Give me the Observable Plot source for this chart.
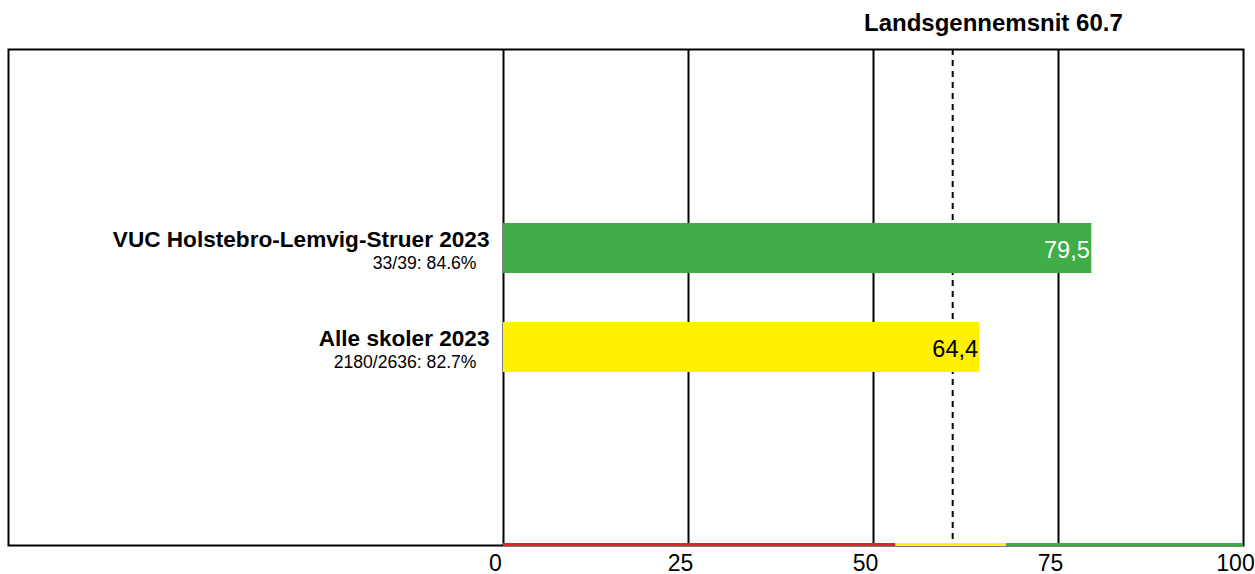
<!DOCTYPE html>
<html>
<head>
<meta charset="utf-8">
<script src="https://cdn.jsdelivr.net/npm/d3@7"></script>
<script src="https://cdn.jsdelivr.net/npm/@observablehq/plot@0.6"></script>
<style>
  html, body { margin: 0; padding: 0; background: #fff; }
  #wrap { position: relative; width: 1255px; height: 574px; font-family: "Liberation Sans", Arial, sans-serif; }
  #title { position: absolute; left: 864px; top: 11px; font-weight: bold; font-size: 24px; line-height: 1; color: #000; white-space: nowrap; }
  #chart { position: absolute; left: 0; top: 0; }
</style>
</head>
<body>
<div id="wrap">
  <div id="chart"></div>
  <div id="title"></div>
</div>
<script>
// ---- data ----
const schools = ["VUC Holstebro-Lemvig-Struer 2023", "Alle skoler 2023"];
const subLabels = ["33/39: 84.6%", "2180/2636: 82.7%"];
const scores = [79.5, 64.4];
const valueLabels = ["79,5", "64,4"];
const barColors = ["#41ad49", "#fff200"];
const valueTextColors = ["#ffffff", "#000000"];
const nationalAverage = 60.7;
const titleText = "Landsgennemsnit 60.7";
const xTicks = [0, 25, 50, 75, 100];
const gridTicks = [0, 25, 50, 75];
const zoneFrom = [0, 53, 68];
const zoneTo = [53, 68, 100];
const zoneColors = ["#d7282f", "#fff200", "#41ad49"];

// ---- tables ----
const rows = schools.map((s, i) => ({
  name: s, sub: subLabels[i], value: scores[i], label: valueLabels[i],
  color: barColors[i], textColor: valueTextColors[i]
}));
const zones = zoneFrom.map((f, i) => ({from: f, to: zoneTo[i], color: zoneColors[i]}));

// ---- layout ----
const W = 1255, H = 574;
const mL = 503, mR = 12, mT = 49, mB = 29;
const plotH = H - mT - mB;
const font = "'Liberation Sans', Arial, sans-serif";

document.getElementById("title").textContent = titleText;

const chart = Plot.plot({
  width: W,
  height: H,
  marginLeft: mL,
  marginRight: mR,
  marginTop: mT,
  marginBottom: mB,
  style: {fontFamily: font, background: "white", color: "black", overflow: "visible"},
  x: {domain: [0, 100], axis: null},
  y: {domain: schools, paddingInner: 0.495, paddingOuter: 1.75, axis: null},
  marks: [
    Plot.ruleX(gridTicks, {stroke: "black", strokeWidth: 2}),
    Plot.ruleX([nationalAverage], {stroke: "black", strokeWidth: 2, strokeDasharray: "6,5"}),
    Plot.barX(rows, {x: "value", y: "name", fill: "color"}),
    Plot.frame({stroke: "black", strokeWidth: 2, insetLeft: -(mL - 8)}),
    Plot.rect(zones, {x1: "from", x2: "to", fill: "color", insetTop: plotH - 2, insetBottom: -1}),
    Plot.text(rows, {x: "value", y: "name", text: "label", fill: "textColor", textAnchor: "end", dx: -2, dy: 2, fontSize: 23.5}),
    Plot.text(rows, {x: 0, y: "name", text: "name", textAnchor: "end", dx: -14, dy: -9, fontSize: 22.6, fontWeight: "bold", fill: "black"}),
    Plot.text(rows, {x: 0, y: "name", text: "sub", textAnchor: "end", dx: -27, dy: 14.5, fontSize: 17.6, fill: "black"}),
    Plot.axisX(xTicks, {tickSize: 0, tickPadding: 9, fontSize: 23, dx: -8, tickFormat: d => String(d), fill: "black"})
  ]
});
document.getElementById("chart").appendChild(chart);
</script>
</body>
</html>
